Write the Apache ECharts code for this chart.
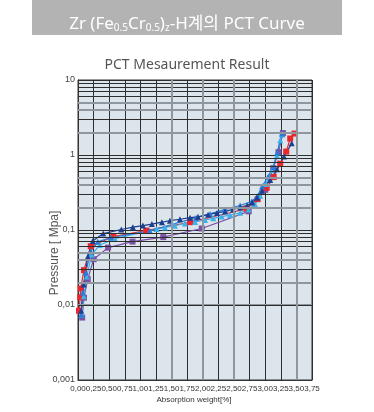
<!DOCTYPE html>
<html><head><meta charset="utf-8">
<script src="https://cdn.jsdelivr.net/npm/echarts@6/dist/echarts.min.js"></script>
<style>html,body{margin:0;padding:0;background:#fff}#c{width:374px;height:412px}</style>
</head><body><div id="c"></div>
<script>
// ---- tick labels ----
const xTickLabels = ["0,00","0,25","0,50","0,75","1,00","1,25","1,50","1,75","2,00","2,25","2,50","2,75","3,00","3,25","3,50","3,75"];
const yTickLabels = ["0,001","0,01","0,1","1","10"];
const logMultipliers = [2,3,4,5,6,7,8,9];
const decades = [0.001,0.01,0.1,1];
const grayMultipliers = [2,4,5];
const grayXLines = [1.5,2.0,2.5,3.5];

// ---- series values: [absorption weight %, pressure MPa] ----
const navySeries = [[0.05,0.0084],[0.09,0.0188],[0.156,0.0439],[0.236,0.0713],[0.405,0.0897],[0.694,0.1016],[0.879,0.109],[1.04,0.1145],[1.184,0.12],[1.345,0.127],[1.473,0.133],[1.634,0.139],[1.795,0.146],[1.923,0.150],[2.084,0.160],[2.228,0.169],[2.357,0.177],[2.485,0.188],[2.598,0.200],[2.71,0.212],[2.79,0.232],[2.87,0.27],[2.95,0.333],[3.08,0.464],[3.19,0.646],[3.30,0.955],[3.425,1.43]];
const redSeries = [[0.016,0.0084],[0.035,0.0127],[0.043,0.0166],[0.096,0.0292],[0.204,0.0608],[0.566,0.0814],[1.093,0.0984],[1.795,0.127],[2.702,0.192],[2.879,0.258],[3.024,0.365],[3.136,0.508],[3.241,0.767],[3.337,1.11],[3.401,1.66],[3.47,1.93]];
const purpleSeries = [[0.067,0.0068],[0.096,0.0125],[0.156,0.0221],[0.252,0.0408],[0.482,0.0582],[0.874,0.070],[1.366,0.0804],[1.983,0.1047],[2.735,0.177],[3.0,0.343],[3.128,0.667],[3.213,1.09],[3.284,1.96]];
const blueSeries = [[0.051,0.0074],[0.076,0.0147],[0.124,0.0271],[0.204,0.052],[0.317,0.0695],[0.525,0.0794],[1.152,0.0976],[1.891,0.146],[2.116,0.164],[2.357,0.188],[2.598,0.212],[2.786,0.241],[2.871,0.282],[2.952,0.382],[3.048,0.516],[3.133,0.693],[3.193,1.08],[3.268,1.94]];
const cyanSeries = [[0.059,0.0074],[0.092,0.0131],[0.14,0.0239],[0.22,0.0472],[0.349,0.063],[0.59,0.0766],[1.26,0.103],[1.393,0.108],[1.553,0.114],[1.714,0.122],[1.875,0.128],[2.036,0.136],[2.169,0.143],[2.304,0.151],[2.437,0.158],[2.598,0.170],[2.731,0.188],[2.839,0.219],[2.919,0.287],[3.016,0.411],[3.107,0.627],[3.188,0.985],[3.241,1.57],[3.273,1.88]];

const gridMarks = [];
decades.forEach(d => logMultipliers.forEach(m => {
  const gray = grayMultipliers.indexOf(m) >= 0;
  gridMarks.push({yAxis: +(d*m).toPrecision(3), lineStyle: gray ? {color:'#8f979e', width:2, type:'solid'} : {color:'#2e2e2e', width:1, type:'solid'}});
}));
grayXLines.forEach(v => gridMarks.push({xAxis: v, lineStyle:{color:'#8f979e', width:2, type:'solid'}}));

function mk(name, data, color, symbol) {
  return {name, type:'line', data, symbol, symbolSize: 6, z: 3,
    itemStyle:{color}, lineStyle:{color, width:1.2}};
}

const chart = echarts.init(document.getElementById('c'), null, {renderer:'canvas'});
chart.setOption({
  animation: false,
  backgroundColor: '#ffffff',
  title: [{
    text: '{a|Zr (Fe}{s|0.5}{a|Cr}{s|0.5}{a|)}{s|z}{a|-H계의 PCT Curve}',
    left: 'center', top: 6,
    textStyle: {fontWeight:'normal', rich: {
      a: {fontSize: 17, fontWeight:'normal', color:'#ffffff', fontFamily:'Noto Sans, Noto Sans CJK KR', lineHeight: 22, verticalAlign:'bottom'},
      s: {fontSize: 10, fontWeight:'normal', color:'#ffffff', fontFamily:'Noto Sans, Noto Sans CJK KR', lineHeight: 22, verticalAlign:'bottom'}
    }}
  },{
    text: 'PCT Mesaurement Result', left: 'center', top: 53,
    textStyle: {fontSize: 14, fontWeight:'normal', color:'#555555', fontFamily:'Noto Sans'}
  }],
  graphic: [
    {type:'rect', z: -1, shape:{x:32, y:0, width:310, height:35}, style:{fill:'#b3b3b3'}},
    {type:'text', x:55, y:253, rotation: Math.PI/2, style:{text:'Pressure [ Mpa]', fontSize:12, fontFamily:'Liberation Sans, Arial', fill:'#555555', align:'center', verticalAlign:'middle'}},
    {type:'text', x:194, y:400, style:{text:'Absorption weight[%]', fontSize:8, fontFamily:'Liberation Sans, Arial', fill:'#333333', align:'center', verticalAlign:'middle'}}
  ],
  grid: {left:78, right:62, top:80, bottom:32, show:true, backgroundColor:'#dde5ec', borderColor:'#333333', borderWidth:1},
  xAxis: {type:'value', min:0, max:3.75, interval:0.25,
    axisLine:{show:true, lineStyle:{color:'#333'}}, axisTick:{show:false},
    axisLabel:{fontSize:8, color:'#333', margin:5, fontFamily:'Liberation Sans, Arial', hideOverlap:false,
      formatter: v => xTickLabels[Math.round(v/0.25)] || ''},
    splitLine:{show:true, lineStyle:{color:'#2e2e2e', width:1}}},
  yAxis: {type:'log', logBase:10, min:0.001, max:10,
    axisLine:{show:true, lineStyle:{color:'#333'}}, axisTick:{show:false},
    axisLabel:{fontSize:9, color:'#444', margin:3, fontFamily:'Liberation Sans, Arial',
      formatter: v => yTickLabels[Math.round(Math.log10(v))+3] || ''},
    splitLine:{show:true, lineStyle:{color:'#2e2e2e', width:1}}},
  series: [
    {type:'line', data:[], z:1, silent:true, markLine:{silent:true, symbol:['none','none'], label:{show:false}, emphasis:{disabled:true}, data: gridMarks}},
    mk('p', purpleSeries, '#7a52a3', 'rect'),
    mk('r', redSeries, '#e8262b', 'rect'),
    mk('c', cyanSeries, '#3cb0e8', 'triangle'),
    mk('b', blueSeries, '#2a7bd3', 'triangle'),
    mk('n', navySeries, '#1c3f8f', 'triangle')
  ]
});
</script>
</body></html>
